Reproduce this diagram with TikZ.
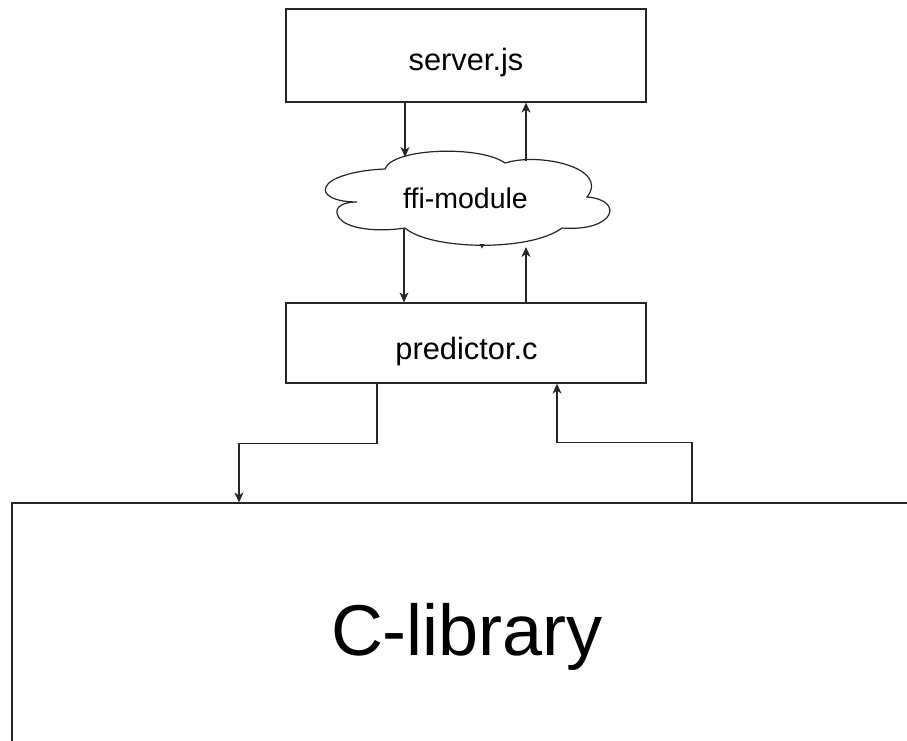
\documentclass[tikz,border=0pt]{standalone}
\usepackage{fontspec}
\setmainfont{Liberation Sans}
\usetikzlibrary{arrows.meta}
\tikzset{
  ln/.style={line width=1.2pt, draw=black!85},
  boxnode/.style={ln, rectangle, inner sep=0pt, minimum width=360pt},
  arr/.style={ln, -{Stealth[length=10pt,width=9pt,inset=3pt]}},
  lbl/.style={anchor=base, inner sep=0pt, font=\fontsize{30.8}{36}\selectfont},
  cloudlbl/.style={anchor=base, inner sep=0pt, font=\fontsize{28.5}{34}\selectfont},
  biglbl/.style={anchor=base, inner sep=0pt, font=\fontsize{72}{86}\selectfont}
}
\begin{document}
\begin{tikzpicture}[x=1pt,y=-1pt]
\useasboundingbox (0,0) rectangle (907,740);
\clip (0,0) rectangle (907,740);
\fill[white] (0,0) rectangle (907,740);

% boxes
\node[boxnode, minimum height=93pt] (server) at (466,55.5) {};
\node[lbl] (serverlbl) at (466,70) {server.js};
\node[boxnode, minimum height=80pt] (predictor) at (466,343) {};
\node[lbl] (predictorlbl) at (466.5,359) {predictor.c};
\node[ln, rectangle, inner sep=0pt, minimum width=910pt, minimum height=250pt] (clib) at (467,628) {};
\node[biglbl] (cliblbl) at (467,655) {C-library};

% cloud
\draw[ln, fill=white] (385,169)
  .. controls (392,148) and (480,145) .. (505,163)
  .. controls (540,152) and (610,168) .. (587,197)
  .. controls (625,200) and (615,232) .. (562,228)
  .. controls (530,252) and (430,250) .. (405,228)
  .. controls (380,232) and (345,230) .. (338,216)
  .. controls (333,206) and (345,202) .. (357,202)
  .. controls (335,202) and (322,195) .. (326,187)
  .. controls (329,178) and (355,170) .. (385,169) -- cycle;
\node[cloudlbl] (cloud) at (465.5,208) {ffi-module};
\fill[black!85] (479.5,244) -- (484.5,244) -- (482,248.5) -- cycle;

% cloud contact points
\coordinate (cl1) at (405,157);
\coordinate (cl2) at (526,161);
\coordinate (cl3) at (404,229);
\coordinate (cl4) at (526,247);

% x positions
\coordinate (xa) at (377,0);
\coordinate (xb) at (239,0);
\coordinate (xc) at (692,0);
\coordinate (xd) at (557,0);

% connectors
\draw[arr] (server.south -| cl1) -- (cl1);
\draw[arr] (cl2) -- (server.south -| cl2);
\draw[arr] (cl3) -- (predictor.north -| cl3);
\draw[arr] (predictor.north -| cl4) -- (cl4);
\draw[arr] (predictor.south -| xa) -- ++(0,60) -| (clib.north -| xb);
\draw[arr] (clib.north -| xc) -- ++(0,-60) -| (predictor.south -| xd);
\end{tikzpicture}
\end{document}
